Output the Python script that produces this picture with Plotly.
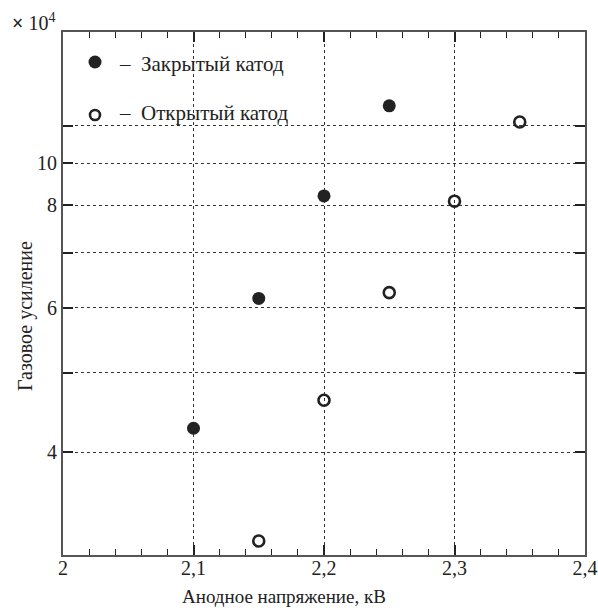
import math
import plotly.graph_objects as go

# Data (gas gain in units of 10^4)
closed_x = [2.10, 2.15, 2.20, 2.25]
closed_y = [4.28, 6.16, 8.21, 10.57]
open_x = [2.15, 2.20, 2.25, 2.30, 2.35]
open_y = [3.12, 4.63, 6.26, 8.09, 10.10]

x_tickvals = [2.0, 2.1, 2.2, 2.3, 2.4]
x_ticktext = ["2", "2,1", "2,2", "2,3", "2,4"]
y_tickvals = [4, 5, 6, 7, 8, 9, 10]
y_ticktext = ["4", " ", "6", " ", "8", "10", " "]

closed_name = "Закрытый катод"
open_name = "Открытый катод"

W, H = 598, 611
ML, MR, MT, MB = 63, 13, 32, 56
PW, PH = W - ML - MR, H - MT - MB

def px(xs):  # screen x -> paper
    return (xs - ML) / PW

def py(ys):  # screen y -> paper
    return 1 - (ys - MT) / PH

FONT = "Liberation Serif, Times New Roman, DejaVu Serif, serif"
INK = "#222222"
AX = "#555555"

fig = go.Figure()
fig.add_trace(go.Scatter(
    x=closed_x, y=closed_y, mode="markers", name=closed_name,
    marker=dict(symbol="circle", size=13, color=INK, line=dict(width=0)),
    showlegend=False, cliponaxis=False))
fig.add_trace(go.Scatter(
    x=open_x, y=open_y, mode="markers", name=open_name,
    marker=dict(symbol="circle-open", size=11, color=INK, line=dict(width=2.6)),
    showlegend=False, cliponaxis=False))

shapes = []
for (y_top, y_bot) in [(42, 82), (97, 123)]:
    shapes.append(dict(type="rect", xref="paper", yref="paper",
                       x0=px(68), x1=px(300), y0=py(y_bot), y1=py(y_top),
                       fillcolor="white", line=dict(width=0), layer="between"))
shapes.append(dict(type="circle", xref="paper", yref="paper",
                   xsizemode="pixel", ysizemode="pixel",
                   xanchor=px(95), yanchor=py(62),
                   x0=-6.5, x1=6.5, y0=-6.5, y1=6.5,
                   fillcolor=INK, line=dict(width=0), layer="above"))
shapes.append(dict(type="circle", xref="paper", yref="paper",
                   xsizemode="pixel", ysizemode="pixel",
                   xanchor=px(95), yanchor=py(115),
                   x0=-5, x1=5, y0=-5, y1=5,
                   fillcolor="rgba(0,0,0,0)", line=dict(width=2.6, color=INK), layer="above"))

annotations = [
    dict(text="–  " + closed_name, x=px(117), y=py(64), xref="paper", yref="paper",
         xanchor="left", yanchor="middle", showarrow=False,
         font=dict(family=FONT, size=21, color=INK)),
    dict(text="–  " + open_name, x=px(117), y=py(113), xref="paper", yref="paper",
         xanchor="left", yanchor="middle", showarrow=False,
         font=dict(family=FONT, size=21, color=INK)),
    dict(text="Газовое усиление", x=px(25), y=py(316), xref="paper", yref="paper",
         xanchor="center", yanchor="middle", textangle=-90, showarrow=False,
         font=dict(family=FONT, size=20, color=INK)),
    dict(text="Анодное напряжение, кВ", x=px(284), y=py(596), xref="paper", yref="paper",
         xanchor="center", yanchor="middle", showarrow=False,
         font=dict(family=FONT, size=19, color=INK)),
    dict(text="<b>×</b> 10<sup>4</sup>", x=px(10), y=py(22), xref="paper", yref="paper",
         xanchor="left", yanchor="middle", showarrow=False,
         font=dict(family=FONT, size=20, color=INK)),
]

fig.update_layout(
    width=W, height=H, autosize=False,
    margin=dict(l=ML, r=MR, t=MT, b=MB, pad=0, autoexpand=False),
    paper_bgcolor="white", plot_bgcolor="white",
    font=dict(family=FONT, size=20, color=INK),
    shapes=shapes, annotations=annotations,
    showlegend=False,
)
fig.update_xaxes(
    range=[2.0, 2.4], tickvals=x_tickvals, ticktext=x_ticktext,
    ticks="inside", ticklen=10, tickwidth=1.5, tickcolor=INK,
    showline=True, linecolor=AX, linewidth=2, mirror="allticks",
    showgrid=True, gridcolor="#333333", gridwidth=1, griddash="dot",
    zeroline=False, automargin=False, ticklabelstandoff=-6,
    minor=dict(dtick=0.02, tick0=2.0, ticks="inside", ticklen=6, tickwidth=1.2,
               tickcolor=INK, showgrid=False),
    tickfont=dict(family=FONT, size=20, color=INK),
)
fig.update_yaxes(
    type="log", range=[math.log10(3), math.log10(13)],
    tickvals=y_tickvals, ticktext=y_ticktext,
    ticks="inside", ticklen=10, tickwidth=1.5, tickcolor=INK,
    showline=True, linecolor=AX, linewidth=2, mirror="allticks",
    showgrid=True, gridcolor="#333333", gridwidth=1, griddash="dot",
    zeroline=False, automargin=False,
    tickfont=dict(family=FONT, size=20, color=INK),
)

fig.write_html(
    "out.html",
    config={"displayModeBar": False},
    post_script="document.body.style.margin='0';document.body.style.overflow='hidden';",
)
